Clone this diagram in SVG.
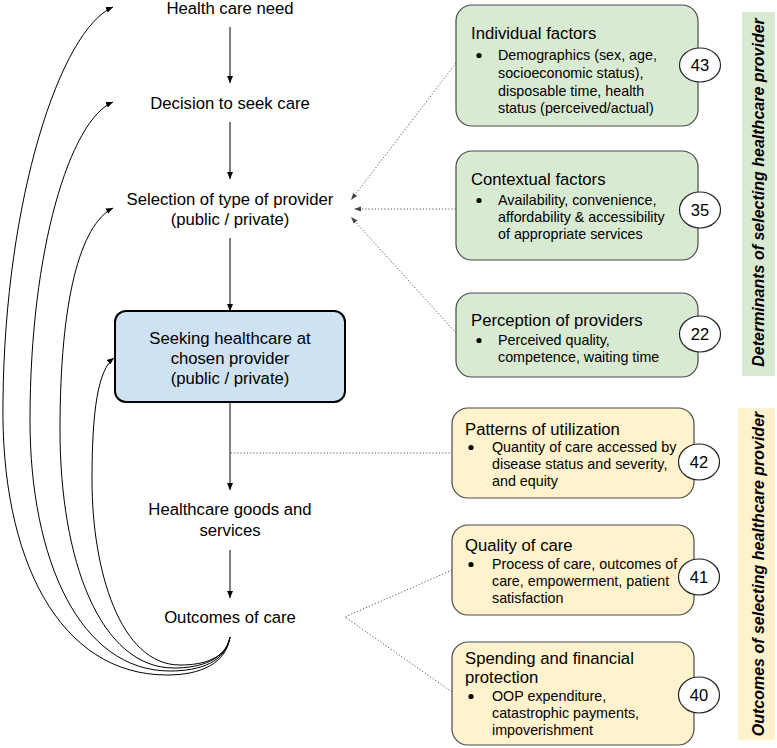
<svg xmlns="http://www.w3.org/2000/svg" width="777" height="748" viewBox="0 0 777 748">
<defs>
<marker id="ah" markerUnits="userSpaceOnUse" markerWidth="8" markerHeight="6" refX="7" refY="3" orient="auto"><path d="M0,0 L7,3 L0,6 z" fill="#000"/></marker>
<marker id="ahg" markerUnits="userSpaceOnUse" markerWidth="8" markerHeight="6" refX="7" refY="3" orient="auto"><path d="M0,0.5 L7,3 L0,5.5 z" fill="#444"/></marker>
<style>
text{font-family:"Liberation Sans",Arial,sans-serif;fill:#000}
.lt{font-size:16.7px;text-anchor:middle}
.tt{font-size:16.7px}
.bt{font-size:14.3px}
.num{font-size:16.5px;text-anchor:middle}
.band{font-size:16px;font-weight:bold;font-style:italic;text-anchor:middle}
.solid{fill:none;stroke:#000;stroke-width:1}
.dot{fill:none;stroke:#555;stroke-width:1;stroke-dasharray:1.2 2}
.gbox{fill:#d9ead3;stroke:#4a4a4a;stroke-width:1.2}
.ybox{fill:#fff2cc;stroke:#4a4a4a;stroke-width:1.2}
.circ{fill:#fff;stroke:#222;stroke-width:1.2}
</style>
</defs>
<rect width="777" height="748" fill="#fff"/>

<g id="connectors">
<line class="solid" x1="230" y1="27" x2="230" y2="83" marker-end="url(#ah)"/>
<line class="solid" x1="230" y1="122" x2="230" y2="179" marker-end="url(#ah)"/>
<line class="solid" x1="230" y1="238" x2="230" y2="311" marker-end="url(#ah)"/>
<line class="solid" x1="230" y1="403" x2="230" y2="490" marker-end="url(#ah)"/>
<line class="solid" x1="230" y1="550" x2="230" y2="598" marker-end="url(#ah)"/>
<path class="solid" d="M230,637 C226,664 200,675 167,675 C60,675 0,560 3,400 C5,200 60,30 113,7" marker-end="url(#ah)"/>
<path class="solid" d="M230,637 C226,662 200,671 170,671 C80,671 30,560 30,420 C30,250 70,120 113,102" marker-end="url(#ah)"/>
<path class="solid" d="M230,637 C226,660 200,668 174,668 C100,668 60,560 60,430 C60,300 80,225 113,208" marker-end="url(#ah)"/>
<path class="solid" d="M230,637 C226,658 205,665 180,665 C120,665 92,570 92,480 C92,410 98,370 114,358" marker-end="url(#ah)"/>
<line class="dot" x1="456" y1="63" x2="351" y2="200" marker-end="url(#ahg)"/>
<line class="dot" x1="456" y1="209" x2="354" y2="209" marker-end="url(#ahg)"/>
<line class="dot" x1="456" y1="333" x2="351" y2="217" marker-end="url(#ahg)"/>
<line class="dot" x1="231" y1="453" x2="452" y2="453"/>
<polyline class="dot" points="452,570 345,617 452,692"/>
</g>

<g id="n-need"><text class="lt" x="230" y="14">Health care need</text></g>
<g id="n-decision"><text class="lt" x="230" y="109">Decision to seek care</text></g>
<g id="n-selection"><text class="lt" x="230" y="205">Selection of type of provider</text><text class="lt" x="230" y="225">(public / private)</text></g>
<g id="n-seeking">
<rect x="115" y="311" width="230" height="91" rx="11" fill="#cfe2f3" stroke="#000" stroke-width="2"/>
<text class="lt" x="230" y="344">Seeking healthcare at</text>
<text class="lt" x="230" y="364">chosen provider</text>
<text class="lt" x="230" y="384">(public / private)</text>
</g>
<g id="n-goods"><text class="lt" x="230" y="515">Healthcare goods and</text><text class="lt" x="230" y="536">services</text></g>
<g id="n-outcomes"><text class="lt" x="230" y="623">Outcomes of care</text></g>

<g id="n-individual">
<rect class="gbox" x="456" y="5" width="242" height="121" rx="16"/>
<text class="tt" x="471" y="38.5">Individual factors</text>
<circle cx="479" cy="55.5" r="2.6"/>
<text class="bt" x="498" y="60">Demographics (sex, age,</text>
<text class="bt" x="498" y="78">socioeconomic status),</text>
<text class="bt" x="498" y="96">disposable time, health</text>
<text class="bt" x="498" y="113">status (perceived/actual)</text>
<ellipse class="circ" cx="700" cy="65" rx="20.5" ry="17"/>
<text class="num" x="700" y="71">43</text>
</g>
<g id="n-contextual">
<rect class="gbox" x="456" y="151" width="242" height="109" rx="16"/>
<text class="tt" x="471" y="185">Contextual factors</text>
<circle cx="479" cy="200.5" r="2.6"/>
<text class="bt" x="498" y="205">Availability, convenience,</text>
<text class="bt" x="498" y="222">affordability &amp; accessibility</text>
<text class="bt" x="498" y="239">of appropriate services</text>
<ellipse class="circ" cx="700" cy="210" rx="20.5" ry="18"/>
<text class="num" x="700" y="216">35</text>
</g>
<g id="n-perception">
<rect class="gbox" x="456" y="293" width="242" height="84" rx="16"/>
<text class="tt" x="471" y="326">Perception of providers</text>
<circle cx="479" cy="340.5" r="2.6"/>
<text class="bt" x="498" y="345">Perceived quality,</text>
<text class="bt" x="498" y="362">competence, waiting time</text>
<ellipse class="circ" cx="700" cy="334" rx="20.5" ry="18"/>
<text class="num" x="700" y="340">22</text>
</g>
<g id="band-determinants">
<rect x="742" y="12" width="33" height="364" fill="#d9ead3"/>
<text class="band" transform="translate(764,192.5) rotate(-90)">Determinants of selecting healthcare provider</text>
</g>

<g id="n-patterns">
<rect class="ybox" x="452" y="408" width="242" height="90" rx="16"/>
<text class="tt" x="465" y="435">Patterns of utilization</text>
<circle cx="471" cy="447.5" r="2.6"/>
<text class="bt" x="492" y="452">Quantity of care accessed by</text>
<text class="bt" x="492" y="469">disease status and severity,</text>
<text class="bt" x="492" y="486">and equity</text>
<ellipse class="circ" cx="699" cy="462" rx="20.5" ry="18"/>
<text class="num" x="699" y="468">42</text>
</g>
<g id="n-quality">
<rect class="ybox" x="452" y="525" width="242" height="90" rx="16"/>
<text class="tt" x="465" y="551">Quality of care</text>
<circle cx="471" cy="564.5" r="2.6"/>
<text class="bt" x="492" y="569">Process of care, outcomes of</text>
<text class="bt" x="492" y="586">care, empowerment, patient</text>
<text class="bt" x="492" y="603">satisfaction</text>
<ellipse class="circ" cx="699" cy="577" rx="20.5" ry="18"/>
<text class="num" x="699" y="583">41</text>
</g>
<g id="n-spending">
<rect class="ybox" x="452" y="642" width="242" height="103" rx="16"/>
<text class="tt" x="465" y="664">Spending and financial</text>
<text class="tt" x="465" y="683">protection</text>
<circle cx="471" cy="696.5" r="2.6"/>
<text class="bt" x="492" y="701">OOP expenditure,</text>
<text class="bt" x="492" y="718">catastrophic payments,</text>
<text class="bt" x="492" y="735">impoverishment</text>
<ellipse class="circ" cx="699" cy="695" rx="20.5" ry="18"/>
<text class="num" x="699" y="701">40</text>
</g>
<g id="band-outcomes">
<rect x="738" y="408" width="37" height="332" fill="#fff2cc"/>
<text class="band" transform="translate(764,574) rotate(-90)">Outcomes of selecting healthcare provider</text>
</g>
</svg>
